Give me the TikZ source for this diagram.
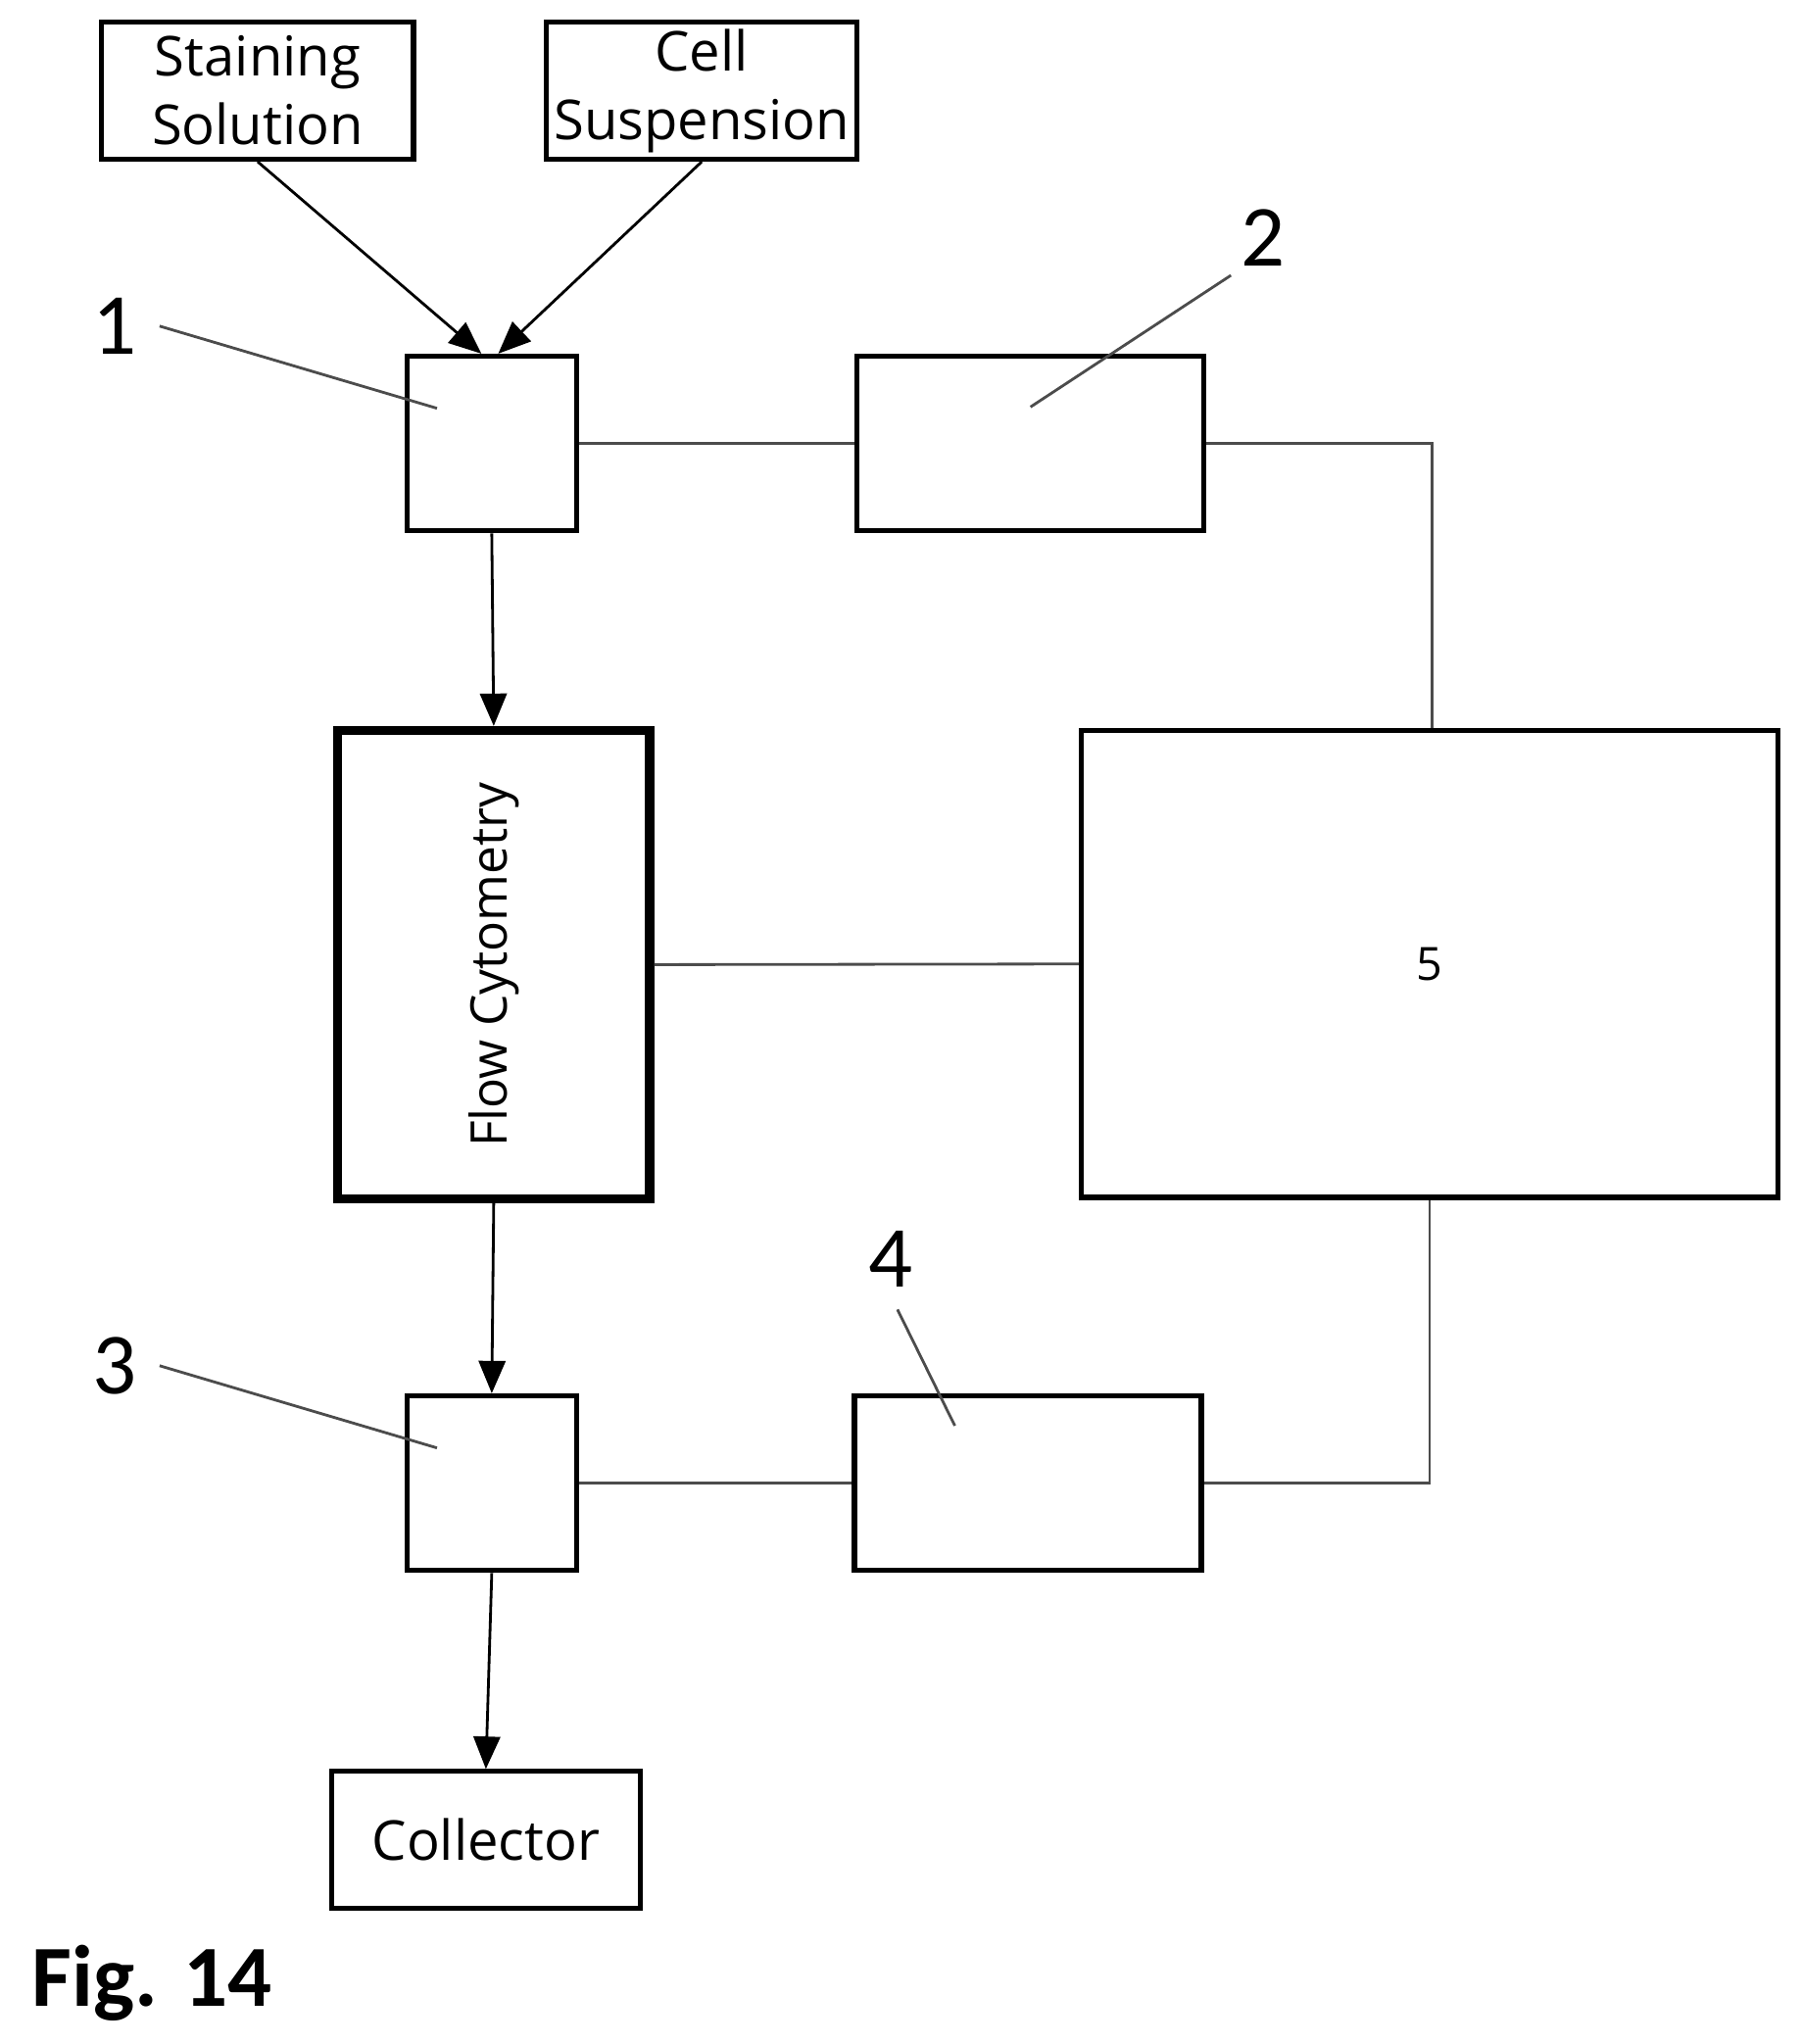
\documentclass[tikz,border=0pt]{standalone}
\usepackage{fontspec}
\setmainfont{Open Sans}
\newfontfamily\numfont{Carlito}
\usetikzlibrary{arrows}

\begin{document}
\begin{tikzpicture}[
  box/.style={draw, line width=1.1pt, inner sep=0pt, align=center, font=\fontsize{12}{15}\selectfont},
  wire/.style={draw=black!70, line width=0.6pt},
  flow/.style={line width=0.6pt, arrows={ - triangle 45}},
  num/.style={font=\numfont\fontsize{19}{19}\selectfont}
]
\useasboundingbox (0,0) rectangle (13.8,-15.67);

\node [box, minimum width=2.39cm, minimum height=1.05cm] (stain) at (1.975,-0.695) {Staining\\Solution};
\node [box, minimum width=2.38cm, minimum height=1.05cm] (cell) at (5.38,-0.695) {Cell\\Suspension};
\node [box, minimum width=1.30cm, minimum height=1.34cm] (b1) at (3.77,-3.40) {};
\node [box, minimum width=2.66cm, minimum height=1.34cm] (b2) at (7.90,-3.40) {};
\node [box, line width=2pt, minimum width=2.39cm, minimum height=3.59cm] (cyto) at (3.785,-7.395) {};
\node [rotate=90, font=\fontsize{11}{13}\selectfont] (cytotext) at (cyto) {Flow Cytometry};
\node [box, minimum width=5.34cm, minimum height=3.58cm, font=\fontsize{10}{12}\selectfont] (b5) at (10.96,-7.39) {5};
\node [box, minimum width=1.30cm, minimum height=1.34cm] (b3) at (3.77,-11.37) {};
\node [box, minimum width=2.66cm, minimum height=1.34cm] (b4) at (7.88,-11.37) {};
\node [box, minimum width=2.37cm, minimum height=1.05cm] (coll) at (3.725,-14.105) {Collector};

% reference numerals
\node [num] (n1) at (0.88,-2.50) {1};
\node [num] (n2) at (9.68,-1.82) {2};
\node [num] (n3) at (0.88,-10.47) {3};
\node [num] (n4) at (6.83,-9.65) {4};
\coordinate (p1) at (3.35,-3.13);
\coordinate (p2) at (7.90,-3.12);
\coordinate (p3) at (3.35,-11.10);
\coordinate (p4) at (7.32,-10.93);
\draw [wire] (n1.east) ++(0.05,0) -- (p1);
\draw [wire] (n2.south west) ++(0.05,0.05) -- (p2);
\draw [wire] (n3.east) ++(0.05,0) -- (p3);
\draw [wire] (n4.south) ++(0.05,-0.05) -- (p4);

\node [font=\numfont\bfseries\fontsize{19}{19}\selectfont, anchor=west] (fig) at (0.12,-15.20) {Fig. 14};

% flow
\draw [flow] (stain.south) -- ([xshift=-0.08cm]b1.north);
\draw [flow] (cell.south) -- ([xshift=0.05cm]b1.north);
\draw [flow] (b1.south) -- (cyto.north);
\draw [flow] (cyto.south) -- (b3.north);
\draw [flow] (b3.south) -- (coll.north);

% signal lines
\draw [wire] (b1.east) -- (b2.west);
\draw [wire] (b2.east) -| ([xshift=0.02cm]b5.north);
\draw [wire] (cyto.east) -- (b5.west);
\draw [wire] (b5.south) |- (b4.east);
\draw [wire] (b3.east) -- (b4.west);
\end{tikzpicture}
\end{document}
